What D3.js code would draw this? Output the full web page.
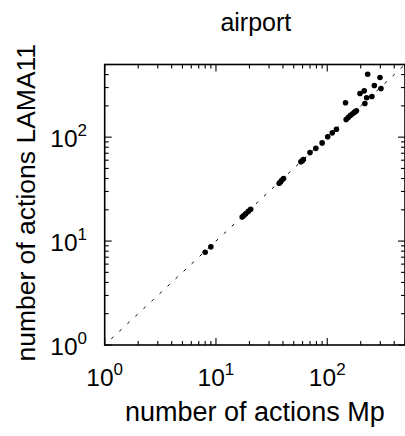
<!DOCTYPE html>
<html>
<head>
<meta charset="utf-8">
<script src="https://cdn.jsdelivr.net/npm/d3@7"></script>
<style>
  html, body { margin: 0; padding: 0; background: #fff; }
  svg { display: block; font-family: "Liberation Sans", Arial, Helvetica, sans-serif; }
</style>
</head>
<body>
<script>
const title = "airport";
const xLabel = "number of actions Mp";
const yLabel = "number of actions LAMA11";
const domainMin = 1;
const domainMax = 500;
const majorTicks = [1, 10, 100];
const tickExponents = ["0", "1", "2"];
const actionsMp =    [8.0, 9.0, 17.2, 17.8, 18.5, 19.5, 20.5, 37, 38, 39, 40.5, 58, 60, 61, 70, 79, 90, 101, 111, 121, 148, 155, 162, 169, 176, 183, 146, 218, 226, 252, 197, 215, 265, 304, 231, 298];
const actionsLama11 = [7.8, 8.8, 17.0, 17.6, 18.3, 19.3, 20.2, 36, 37, 38.5, 40, 58, 59.5, 61, 71, 78, 88, 101, 110, 119, 148, 155, 162, 168, 174, 179, 214, 211, 239, 246, 263, 279, 314, 294, 403, 375];

const W = 405, H = 436;
const mLeft = 104.7, mRight = 405, mTop = 64.5, mBottom = 345;

const svg = d3.select("body").append("svg").attr("width", W).attr("height", H);

const x = d3.scaleLog().domain([domainMin, domainMax]).range([mLeft, mRight]);
const y = d3.scaleLog().domain([domainMin, domainMax]).range([mBottom, mTop]);

// minor ticks
const minor = [];
for (let d = 1; d <= 100; d *= 10) for (let k = 2; k <= 9; k++) { const v = d * k; if (v <= domainMax) minor.push(v); }

const g = svg.append("g");

// diagonal
g.append("line")
  .attr("x1", x(domainMin)).attr("y1", y(domainMin))
  .attr("x2", x(domainMax)).attr("y2", y(domainMax))
  .attr("stroke", "#000").attr("stroke-width", 1)
  .attr("stroke-dasharray", "3,8").attr("stroke-dashoffset", -9);

// points
g.selectAll("circle.pt").data(actionsMp.map((v, i) => [v, actionsLama11[i]]))
  .enter().append("circle")
  .attr("cx", d => x(d[0])).attr("cy", d => y(d[1]))
  .attr("r", 2.8).attr("fill", "#000");

// frame
g.append("rect").attr("x", mLeft).attr("y", mTop)
  .attr("width", mRight - mLeft).attr("height", mBottom - mTop)
  .attr("fill", "none").attr("stroke", "#000").attr("stroke-width", 1.6);

const majLen = 7, minLen = 4;
function drawTicks(vals, len) {
  vals.forEach(v => {
    g.append("line").attr("x1", x(v)).attr("x2", x(v)).attr("y1", mBottom).attr("y2", mBottom - len).attr("stroke", "#000").attr("stroke-width", 1.1);
    g.append("line").attr("x1", x(v)).attr("x2", x(v)).attr("y1", mTop).attr("y2", mTop + len).attr("stroke", "#000").attr("stroke-width", 1.1);
    g.append("line").attr("y1", y(v)).attr("y2", y(v)).attr("x1", mLeft).attr("x2", mLeft + len).attr("stroke", "#000").attr("stroke-width", 1.1);
    g.append("line").attr("y1", y(v)).attr("y2", y(v)).attr("x1", mRight).attr("x2", mRight - len).attr("stroke", "#000").attr("stroke-width", 1.1);
  });
}
drawTicks(majorTicks, majLen);
drawTicks(minor, minLen);

// x tick labels
majorTicks.forEach((v, i) => {
  const t = svg.append("text").attr("x", x(v)).attr("y", 386)
    .attr("text-anchor", "middle").attr("font-size", 24.5).attr("fill", "#000");
  t.append("tspan").text("10");
  t.append("tspan").attr("dy", -11).attr("font-size", 17).text(tickExponents[i]);
});
// y tick labels
majorTicks.forEach((v, i) => {
  const t = svg.append("text").attr("x", 87).attr("y", y(v) + 10)
    .attr("text-anchor", "end").attr("font-size", 24.5).attr("fill", "#000");
  t.append("tspan").text("10");
  t.append("tspan").attr("dy", -11).attr("font-size", 17).text(tickExponents[i]);
});

// title
svg.append("text").attr("x", (mLeft + mRight) / 2 + 1).attr("y", 31)
  .attr("text-anchor", "middle").attr("font-size", 25).text(title);
// x label
svg.append("text").attr("x", (mLeft + mRight) / 2).attr("y", 421)
  .attr("text-anchor", "middle").attr("font-size", 27).text(xLabel);
// y label
svg.append("text").attr("transform", `translate(35,${(mTop + mBottom) / 2 - 2}) rotate(-90)`)
  .attr("text-anchor", "middle").attr("font-size", 26.5).text(yLabel);
</script>
</body>
</html>
